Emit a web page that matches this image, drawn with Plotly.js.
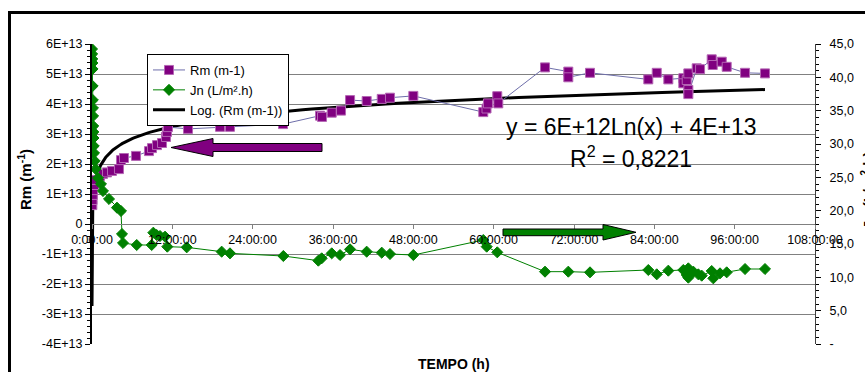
<!DOCTYPE html>
<html>
<head>
<meta charset="utf-8">
<script src="https://cdn.plot.ly/plotly-3.0.1.min.js"></script>
<style>
  html, body { margin: 0; padding: 0; background: #ffffff; }
  #chart { width: 865px; height: 372px; }
</style>
</head>
<body>
<div id="chart"></div>
<script>
// Membrane resistance Rm (m-1) versus filtration time (h)
const rmHours = [0.05, 0.08, 0.12, 0.17, 0.30, 0.60, 1.20, 1.64, 2.24, 2.99,
  4.03, 4.33, 4.78, 6.57, 8.51, 8.96, 9.71, 10.46, 11.05, 11.20,
  11.35, 14.34, 19.12, 20.61, 28.53, 34.06, 34.36, 35.81, 37.20, 38.55,
  41.03, 43.28, 44.51, 48.00, 58.45, 58.93, 59.15, 60.54, 60.69, 67.67,
  71.15, 71.15, 74.39, 83.10, 84.36, 86.09, 88.33, 88.33, 88.84, 89.08,
  89.08, 89.08, 90.33, 90.83, 92.57, 92.72, 94.07, 94.81, 97.55, 100.53];
const rmValues = [0.63e13, 0.80e13, 0.97e13, 1.13e13, 1.30e13, 1.47e13, 1.60e13, 1.67e13, 1.72e13, 1.77e13,
  1.83e13, 2.13e13, 2.20e13, 2.27e13, 2.43e13, 2.53e13, 2.63e13, 2.70e13, 2.90e13, 3.07e13,
  3.23e13, 3.17e13, 3.24e13, 3.24e13, 3.33e13, 3.61e13, 3.57e13, 3.71e13, 3.78e13, 4.13e13,
  4.10e13, 4.17e13, 4.21e13, 4.27e13, 3.73e13, 3.85e13, 4.02e13, 4.26e13, 4.02e13, 5.22e13,
  5.08e13, 4.89e13, 5.04e13, 4.82e13, 5.04e13, 4.82e13, 4.86e13, 4.69e13, 4.80e13, 5.02e13,
  4.47e13, 4.33e13, 5.19e13, 5.16e13, 5.49e13, 5.30e13, 5.41e13, 5.24e13, 5.04e13, 5.02e13];

// Permeate flux Jn (L/m².h) versus filtration time (h)
const jnHours = [0.00, 0.02, 0.04, 0.06, 0.08, 0.10, 0.12, 0.14, 0.16, 0.18,
  0.20, 0.22, 0.26, 0.30, 0.40, 0.55, 0.90, 1.34, 1.64, 2.54,
  3.73, 4.33, 4.48, 4.63, 6.68, 8.92, 9.16, 9.66, 10.16, 10.91,
  11.25, 14.15, 19.37, 20.61, 28.58, 33.81, 34.31, 35.81, 37.05, 38.55,
  41.03, 43.28, 44.51, 48.00, 58.45, 58.96, 60.54, 67.67, 71.15, 74.39,
  83.10, 84.36, 86.09, 88.33, 88.84, 89.08, 89.08, 89.83, 90.57, 91.08,
  92.57, 92.81, 93.81, 94.81, 97.55, 100.53];
const jnValues = [44.25, 43.5, 42.75, 42.15, 41.25, 38.7, 36.6, 35.4, 34.2, 32.7,
  31.8, 30.9, 29.7, 28.65, 27.45, 26.25, 24.9, 24.0, 22.95, 21.75,
  20.45, 19.95, 16.5, 15.15, 14.85, 14.85, 16.7, 16.35, 16.2, 16.1,
  14.6, 14.5, 13.85, 13.6, 13.2, 12.5, 12.85, 13.6, 13.35, 14.2,
  13.85, 13.7, 13.5, 13.35, 15.6, 14.6, 13.75, 10.85, 10.85, 10.75,
  11.1, 10.45, 11.0, 11.1, 10.35, 11.35, 9.95, 10.85, 10.45, 10.25,
  10.95, 9.85, 10.6, 10.75, 11.25, 11.25];

// Logarithmic trendline of Rm: y = a·ln(t in days) + b
const trendA = 5.8e12;
const trendB = 3.65e13;
const trendFromHours = 0.0004;
const trendToHours = 100.53;

// Axis ticks
const xTickVals = [0, 12, 24, 36, 48, 60, 72, 84, 96, 108];
const xTickText = ['0:00:00', '12:00:00', '24:00:00', '36:00:00', '48:00:00',
  '60:00:00', '72:00:00', '84:00:00', '96:00:00', '108:00:00'];
const rmTickVals = [-4e13, -3e13, -2e13, -1e13, 0, 1e13, 2e13, 3e13, 4e13, 5e13, 6e13];
const rmTickText = ['-4E+13', '-3E+13', '-2E+13', '-1E+13', '0', '1E+13', '2E+13',
  '3E+13', '4E+13', '5E+13', '6E+13'];
const jnTickVals = [0, 5, 10, 15, 20, 25, 30, 35, 40, 45];
const jnTickText = ['-', '5,0', '10,0', '15,0', '20,0', '25,0', '30,0', '35,0', '40,0', '45,0'];

// sample the trendline densely near t = 0 where it is steep
const trendX = [];
const trendY = [];
const nSamples = 300;
for (let i = 0; i <= nSamples; i++) {
  const h = trendFromHours * Math.pow(trendToHours / trendFromHours, i / nSamples);
  trendX.push(h);
  trendY.push(trendA * Math.log(h / 24) + trendB);
}

const FONT = 'Liberation Sans, Arial, sans-serif';

// plot area in pixels: left 92, right 815, top 44, bottom 344
const L = 92, R = 815, T = 44, B = 344;
const px = (x) => (x - L) / (R - L);
const py = (y) => (B - y) / (B - T);

function arrowPath(pts) {
  return 'M ' + pts.map(p => px(p[0]) + ',' + py(p[1])).join(' L ') + ' Z';
}

function label(x, y, text, size, angle) {
  return {
    xref: 'paper', yref: 'paper', x: px(x), y: py(y),
    xanchor: 'center', yanchor: 'middle', textangle: angle || 0,
    text: text, showarrow: false,
    font: { family: FONT, size: size, color: '#000000' }
  };
}

const traces = [
  {
    x: trendX, y: trendY, type: 'scatter', mode: 'lines',
    name: 'Log. (Rm (m-1))', legendrank: 3,
    line: { color: '#000000', width: 3 },
    hoverinfo: 'skip'
  },
  {
    x: rmHours, y: rmValues, type: 'scatter', mode: 'lines+markers',
    name: 'Rm (m-1)', legendrank: 1,
    line: { color: '#6E6EAA', width: 1 },
    marker: { symbol: 'square', size: 9, color: '#800080', line: { color: '#B466B4', width: 1 } }
  },
  {
    x: jnHours, y: jnValues, type: 'scatter', mode: 'lines+markers',
    name: 'Jn (L/m².h)', legendrank: 2, yaxis: 'y2',
    line: { color: '#008000', width: 1 },
    marker: { symbol: 'diamond', size: 8.5, color: '#008000', line: { color: '#008000', width: 1 } }
  }
];

const layout = {
  width: 865, height: 372,
  margin: { l: L, r: 865 - R, t: T, b: 372 - B, pad: 0 },
  paper_bgcolor: '#ffffff',
  plot_bgcolor: '#ffffff',
  font: { family: FONT, size: 12.5, color: '#000000' },
  showlegend: true,
  legend: {
    x: px(147), y: py(54), xanchor: 'left', yanchor: 'top',
    bgcolor: '#ffffff', bordercolor: '#000000', borderwidth: 1,
    font: { family: FONT, size: 13, color: '#000000' },
    itemwidth: 32
  },
  xaxis: {
    range: [0, 108], anchor: 'free', position: 0.4,
    tickmode: 'array', tickvals: xTickVals, ticktext: xTickText,
    ticks: 'outside', ticklen: 4, tickcolor: '#808080',
    showline: true, linecolor: '#808080', linewidth: 1,
    showgrid: false, zeroline: false,
    tickfont: { family: FONT, size: 12.5, color: '#000000' }
  },
  yaxis: {
    range: [-4e13, 6e13],
    tickmode: 'array', tickvals: rmTickVals, ticktext: rmTickText,
    ticks: 'outside', ticklen: 5, tickcolor: '#000000',
    showline: true, linecolor: '#000000', linewidth: 2,
    showgrid: true, gridcolor: '#808080', gridwidth: 1,
    zeroline: false,
    minor: { tickmode: 'linear', tick0: 0, dtick: 2e12, ticks: 'outside', ticklen: 3,
             tickcolor: '#000000', showgrid: false },
    tickfont: { family: FONT, size: 12.5, color: '#000000' }
  },
  yaxis2: {
    range: [0, 45], overlaying: 'y', side: 'right', anchor: 'x',
    tickmode: 'array', tickvals: jnTickVals, ticktext: jnTickText,
    ticks: 'outside', ticklen: 5, tickcolor: '#000000',
    showline: true, linecolor: '#404040', linewidth: 1,
    showgrid: false, zeroline: false,
    ticklabelstandoff: 6,
    minor: { tickmode: 'linear', tick0: 0, dtick: 1, ticks: 'outside', ticklen: 3,
             tickcolor: '#000000', showgrid: false },
    tickfont: { family: FONT, size: 12.5, color: '#000000' }
  },
  annotations: [
    label(631, 127, 'y = 6E+12Ln(x) + 4E+13', 23),
    label(631, 157, 'R<sup>2</sup> = 0,8221', 23),
    label(24, 180, '<b>Rm (m<sup>-1</sup>)</b>', 15, -90),
    label(454, 364, '<b>TEMPO (h)</b>', 14),
    label(867, 190, '<b>Jn (L/m<sup>2</sup>.h)</b>', 15, -90)
  ],
  shapes: [
    // chart frame
    {
      type: 'rect', xref: 'paper', yref: 'paper', layer: 'above',
      x0: px(9.5), y0: py(12.5), x1: px(880), y1: py(390),
      line: { color: '#000000', width: 3 }
    },
    // arrow pointing to the Rm axis
    {
      type: 'path', xref: 'paper', yref: 'paper', layer: 'above',
      path: arrowPath([[322, 143.5], [213, 143.5], [213, 138.5], [171, 147.5],
                       [213, 156.5], [213, 151.5], [322, 151.5]]),
      fillcolor: '#800080', line: { color: '#000000', width: 1 }
    },
    // arrow pointing to the Jn axis
    {
      type: 'path', xref: 'paper', yref: 'paper', layer: 'above',
      path: arrowPath([[503, 229], [603, 229], [603, 224.5], [636, 232.3],
                       [603, 240], [603, 235.7], [503, 235.7]]),
      fillcolor: '#008000', line: { color: '#000000', width: 1 }
    }
  ]
};

Plotly.newPlot('chart', traces, layout, { displayModeBar: false, staticPlot: true });
</script>
</body>
</html>
